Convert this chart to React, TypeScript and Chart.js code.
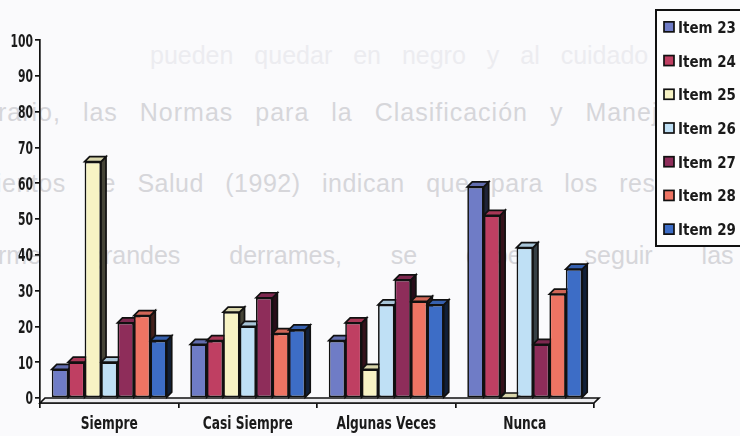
import React, { useEffect, useRef } from "react";
import { Chart, registerables } from "chart.js";

Chart.register(...registerables);

// Response categories on the x axis
const categories = ["Siempre", "Casi Siempre", "Algunas Veces", "Nunca"];

// One series per questionnaire item (percent of answers)
const seriesNames = ["Item 23", "Item 24", "Item 25", "Item 26", "Item 27", "Item 28", "Item 29"];
const item23 = [8, 15, 16, 59];
const item24 = [10, 16, 21, 51];
const item25 = [66, 24, 8, 0];
const item26 = [10, 20, 26, 42];
const item27 = [21, 28, 33, 15];
const item28 = [23, 18, 27, 29];
const item29 = [16, 19, 26, 36];
const seriesValues = [item23, item24, item25, item26, item27, item28, item29];

const seriesColors = ["#6f7cc6", "#bf3f62", "#f7f3c4", "#bfe0f5", "#8e2d5a", "#ee7463", "#3d6dc6"];

// Value axis ticks
const yTickValues = [0, 10, 20, 30, 40, 50, 60, 70, 80, 90, 100];

const LABEL_FONT = '"DejaVu Sans", sans-serif';
const DEPTH = 5;

function shade(hex: string, f: number): string {
  const n = parseInt(hex.slice(1), 16);
  const r = (n >> 16) & 255;
  const g = (n >> 8) & 255;
  const b = n & 255;
  const mix = (c: number) => (f < 0 ? Math.round(c * (1 + f)) : Math.round(c + (255 - c) * f));
  return `rgb(${mix(r)},${mix(g)},${mix(b)})`;
}

// Bold text squeezed horizontally, like a condensed display face
function drawNarrow(ctx: CanvasRenderingContext2D, text: string, x: number, y: number, align: CanvasTextAlign, sx: number) {
  ctx.save();
  ctx.translate(x, y);
  ctx.scale(sx, 1);
  ctx.textAlign = align;
  ctx.textBaseline = "alphabetic";
  ctx.fillText(text, 0, 0);
  ctx.restore();
}

// Floor slab plus the top and side faces of every bar, drawn behind the front faces
const depthPlugin = {
  id: "depth3d",
  beforeDatasetsDraw(chart: any) {
    const { ctx, chartArea } = chart;
    const y0 = chart.scales.y.getPixelForValue(0);
    const front = chartArea.bottom;
    const d = front - y0;
    ctx.save();
    ctx.lineJoin = "miter";
    ctx.beginPath();
    ctx.moveTo(chartArea.left, front);
    ctx.lineTo(chartArea.left + d, y0);
    ctx.lineTo(chartArea.right + d, y0);
    ctx.lineTo(chartArea.right, front);
    ctx.closePath();
    ctx.fillStyle = "#ededf0";
    ctx.fill();
    ctx.lineWidth = 1.7;
    ctx.strokeStyle = "#111";
    ctx.stroke();

    for (let j = 0; j < categories.length; j++) {
      for (let i = 0; i < chart.data.datasets.length; i++) {
        const el = chart.getDatasetMeta(i).data[j];
        if (!el) continue;
        const { x, y, base, width } = el.getProps(["x", "y", "base", "width"], true);
        const l = x - width / 2;
        const r = x + width / 2;
        const col = seriesColors[i];
        ctx.beginPath();
        ctx.moveTo(r, y);
        ctx.lineTo(r + DEPTH, y - DEPTH);
        ctx.lineTo(r + DEPTH, base - DEPTH);
        ctx.lineTo(r, base);
        ctx.closePath();
        ctx.fillStyle = shade(col, -0.72);
        ctx.fill();
        ctx.stroke();
        ctx.beginPath();
        ctx.moveTo(l, y);
        ctx.lineTo(l + DEPTH, y - DEPTH);
        ctx.lineTo(r + DEPTH, y - DEPTH);
        ctx.lineTo(r, y);
        ctx.closePath();
        ctx.fillStyle = shade(col, -0.12);
        ctx.fill();
        ctx.stroke();
      }
    }
    ctx.restore();
  },
};

// Tick labels and the framed legend
const labelsPlugin = {
  id: "narrowLabels",
  afterDraw(chart: any) {
    const { ctx } = chart;
    const xs = chart.scales.x;
    const ys = chart.scales.y;
    ctx.save();
    ctx.fillStyle = "#1a1a1a";
    ctx.font = `bold 18px ${LABEL_FONT}`;
    ys.ticks.forEach((t: any) => {
      drawNarrow(ctx, String(t.value), 33, ys.getPixelForValue(t.value) + 6.5, "right", 0.6);
    });
    ctx.font = `bold 17px ${LABEL_FONT}`;
    xs.ticks.forEach((t: any, i: number) => {
      drawNarrow(ctx, String(xs.getLabelForValue(t.value)), xs.getPixelForTick(i), 429, "center", 0.72);
    });

    // legend
    const boxLeft = 656;
    const boxTop = 10;
    const boxBottom = 246;
    ctx.fillStyle = "#fdfdfd";
    ctx.fillRect(boxLeft, boxTop, 100, boxBottom - boxTop);
    ctx.lineWidth = 2;
    ctx.strokeStyle = "#111";
    ctx.strokeRect(boxLeft, boxTop, 100, boxBottom - boxTop);
    const rowGap = (boxBottom - boxTop) / seriesNames.length;
    ctx.font = `bold 16px ${LABEL_FONT}`;
    seriesNames.forEach((name, i) => {
      const cy = boxTop + rowGap * (i + 0.5);
      ctx.fillStyle = seriesColors[i];
      ctx.fillRect(664, cy - 5, 10, 10);
      ctx.lineWidth = 1.7;
      ctx.strokeRect(664, cy - 5, 10, 10);
      ctx.fillStyle = "#1a1a1a";
      drawNarrow(ctx, name, 678, cy + 6, "left", 0.84);
    });
    ctx.restore();
  },
};

export default function App() {
  const canvasRef = useRef<HTMLCanvasElement | null>(null);

  useEffect(() => {
    const canvas = canvasRef.current;
    if (!canvas) return;
    const chart = new Chart(canvas, {
      type: "bar",
      data: {
        labels: categories,
        datasets: seriesNames.map((name, i) => ({
          label: name,
          data: seriesValues[i],
          backgroundColor: seriesColors[i],
          borderColor: "#111",
          borderWidth: 1.7,
          borderSkipped: false,
          categoryPercentage: 0.83,
          barPercentage: 1.0,
        })),
      },
      options: {
        responsive: false,
        animation: false,
        layout: { padding: { left: 0, top: 40, right: 146, bottom: 0 } },
        plugins: {
          legend: { display: false },
          tooltip: { enabled: false },
        },
        scales: {
          x: {
            grid: {
              offset: true,
              drawOnChartArea: false,
              drawTicks: true,
              tickLength: 5,
              color: "#111",
              lineWidth: 1.7,
            },
            border: { display: true, color: "#111", width: 1.7 },
            ticks: { display: false },
            afterFit: (scale: any) => {
              scale.height = 33;
            },
          },
          y: {
            min: -1.4,
            max: 100,
            grid: {
              drawOnChartArea: false,
              drawTicks: true,
              tickLength: 5,
              color: "#111",
              lineWidth: 1.7,
            },
            border: { display: true, color: "#111", width: 1.7 },
            ticks: { display: false },
            afterBuildTicks: (scale: any) => {
              scale.ticks = yTickValues.map((v) => ({ value: v }));
            },
            afterFit: (scale: any) => {
              scale.width = 40;
            },
          },
        },
      },
      plugins: [depthPlugin, labelsPlugin],
    });
    return () => chart.destroy();
  }, []);

  const textStyle: React.CSSProperties = {
    position: "absolute",
    whiteSpace: "nowrap",
    fontFamily: '"Liberation Sans", Arial, sans-serif',
    fontSize: 25,
    color: "#d6d6da",
    lineHeight: "30px",
  };

  return (
    <div
      style={{
        position: "fixed",
        left: 0,
        top: 0,
        width: 740,
        height: 436,
        overflow: "hidden",
        background: "#fafafc",
      }}
    >
      <div style={{ ...textStyle, top: 40, left: 150, color: "#ececf0", wordSpacing: 14 }}>
        pueden quedar en negro y al cuidado de poco
      </div>
      <div style={{ ...textStyle, top: 97, left: -2, letterSpacing: 1, wordSpacing: 14 }}>
        rario, las Normas para la Clasificación y Manejo de
      </div>
      <div style={{ ...textStyle, top: 168, left: -4, letterSpacing: 0.5, wordSpacing: 14 }}>
        ientos de Salud (1992) indican que para los residuos
      </div>
      <div style={{ ...textStyle, top: 240, left: -2, wordSpacing: 42 }}>
        rme grandes derrames, se deben seguir las
      </div>
      <canvas
        ref={canvasRef}
        width={740}
        height={436}
        style={{ position: "absolute", left: 0, top: 0, width: 740, height: 436 }}
      />
    </div>
  );
}
